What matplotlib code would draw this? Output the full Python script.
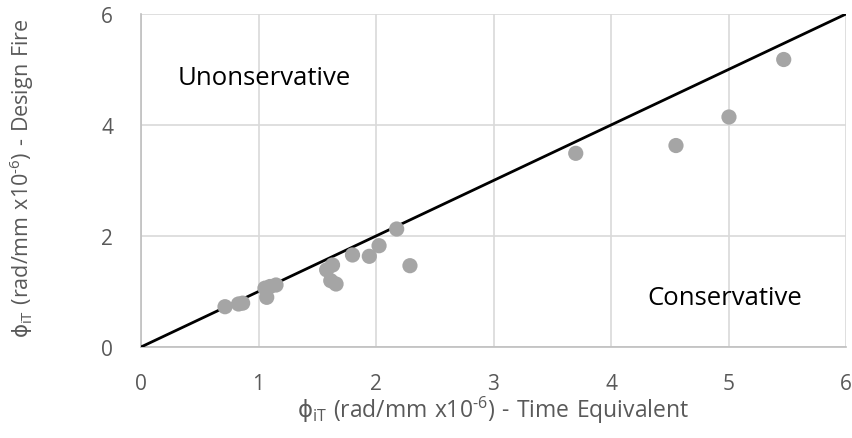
import matplotlib
matplotlib.use("Agg")
import matplotlib.pyplot as plt

plt.rcParams['font.family'] = ['Open Sans', 'DejaVu Sans']
plt.rcParams['mathtext.fontset'] = 'custom'
plt.rcParams['mathtext.rm'] = 'Open Sans'
plt.rcParams['mathtext.it'] = 'DejaVu Sans'

time_equiv = [0.715, 0.83, 0.865, 1.055, 1.07, 1.098, 1.149, 1.58, 1.63, 1.615, 1.66,
              1.80, 1.943, 2.026, 2.176, 2.289, 3.70, 4.553, 5.004, 5.47]
design_fire = [0.726, 0.775, 0.79, 1.06, 0.895, 1.09, 1.117, 1.39, 1.477, 1.195, 1.135,
               1.658, 1.634, 1.825, 2.126, 1.465, 3.49, 3.63, 4.144, 5.18]
line_x = [0, 6]
line_y = [0, 6]
x_ticks = [0, 1, 2, 3, 4, 5, 6]
y_ticks = [0, 2, 4, 6]

fig = plt.figure(figsize=(8.52, 4.39), dpi=100)
ax = fig.add_axes([141/852, 1 - 348/439, (846-141)/852, (348-15)/439])

ax.plot(line_x, line_y, color='black', lw=2, zorder=3)
ax.scatter(time_equiv, design_fire, s=120, color='#a5a5a5', edgecolors='none', zorder=4)

ax.set_xlim(0, 6)
ax.set_ylim(0, 6)
ax.set_xticks(x_ticks)
ax.set_yticks(y_ticks)
ax.grid(True, color='#d9d9d9', lw=1.2, zorder=0)
ax.set_axisbelow(True)
for s in ['top', 'right']:
    ax.spines[s].set_visible(False)
for s in ['left', 'bottom']:
    ax.spines[s].set_color('#bfbfbf')
    ax.spines[s].set_linewidth(1.2)
ax.tick_params(axis='x', length=0, labelsize=15, colors='#595959', pad=19)
ax.tick_params(axis='y', length=0, labelsize=15, colors='#595959', pad=20)

lab_x = r'$\phi_{\mathregular{iT}}$$\mathregular{\ (rad/mm\ x10^{\text{-}6})\ \text{-}\ Time\ Equivalent}$'
lab_y = r'$\phi_{\mathregular{iT}}$$\mathregular{\ (rad/mm\ x10^{\text{-}6})\ \text{-}\ Design\ Fire}$'
ax.set_xlabel(lab_x, fontsize=16.5, color='#595959', va='center', ha='center')
ax.set_ylabel(lab_y, fontsize=15.5, color='#595959', va='center', ha='center')
ax.xaxis.set_label_coords((493.5 - 141) / 705, -(410 - 348) / 333)
ax.yaxis.set_label_coords(-(141 - 22) / 705, (348 - 178) / 333)

ax.text(0.315, 4.85, 'Unonservative', fontsize=18.5, color='black', va='center', ha='left')
ax.text(4.31, 0.9, 'Conservative', fontsize=18.5, color='black', va='center', ha='left')

fig.savefig('out.png', dpi=100)
